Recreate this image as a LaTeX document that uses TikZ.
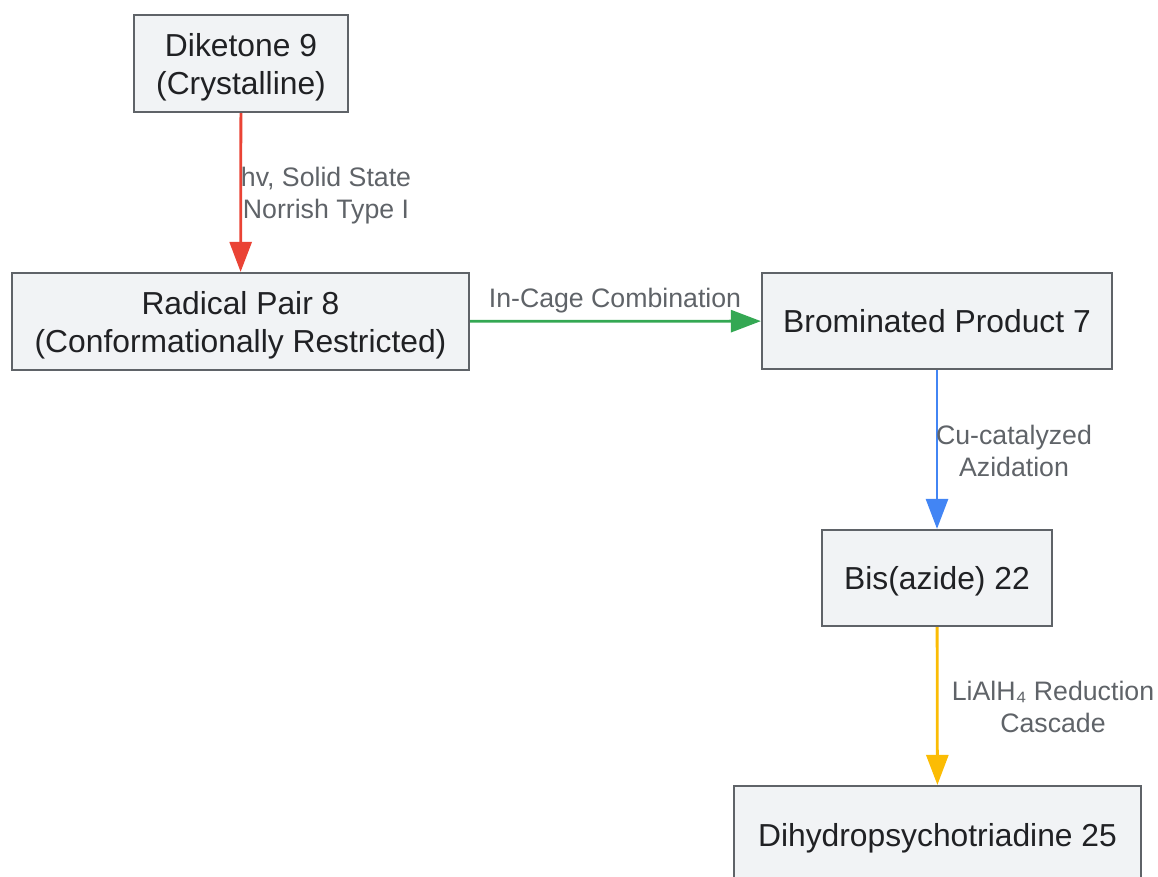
\documentclass[tikz,border=0pt]{standalone}
\usepackage{fontspec}
\setmainfont{Liberation Sans}
\usetikzlibrary{arrows.meta}
\definecolor{boxfill}{HTML}{F1F3F5}
\definecolor{boxdraw}{HTML}{5F6368}
\definecolor{txt}{HTML}{202124}
\definecolor{lbl}{HTML}{5F6368}
\definecolor{cred}{HTML}{EA4335}
\definecolor{cgreen}{HTML}{34A853}
\definecolor{cblue}{HTML}{4285F4}
\definecolor{cyellow}{HTML}{FBBC04}
\newcommand\shiftdown[2]{\raisebox{-#1}[\height][\depth]{\begin{tabular}{@{}c@{}}#2\end{tabular}}}
\tikzset{
  stepbox/.style={draw=boxdraw, fill=boxfill, line width=2.2pt, text=txt,
    font=\fontsize{31.8}{38}\selectfont, align=center, inner sep=0pt},
  conn/.style={line width=2.8pt, -{Triangle[length=30pt,width=22pt]}},
  elabel/.style={text=lbl, font=\fontsize{26.7}{32}\selectfont, align=center, inner sep=0pt}
}
\begin{document}
\begin{tikzpicture}[x=1pt,y=-1pt]
\useasboundingbox (0,0) rectangle (1158,877);
\node[stepbox, minimum width=214pt, minimum height=97pt] (dik) at (241,63.5) {\shiftdown{4pt}{Diketone 9\\(Crystalline)}};
\node[stepbox, minimum width=457pt, minimum height=97pt] (rad) at (240.5,321.5) {\shiftdown{4pt}{Radical Pair 8\\(Conformationally Restricted)}};
\node[stepbox, minimum width=350pt, minimum height=96pt] (bro) at (937,321) {\shiftdown{4pt}{Brominated Product 7}};
\node[stepbox, minimum width=230pt, minimum height=96pt] (bis) at (937,578) {\shiftdown{3.5pt}{Bis(azide) 22}};
\node[stepbox, minimum width=407pt, minimum height=98pt] (dih) at (937.5,835) {\shiftdown{3.5pt}{Dihydropsychotriadine 25}};
\draw[conn, cred] (dik) -- (rad);
\draw[conn, cgreen] (rad) -- (bro);
\draw[conn, cblue] (bro) -- (bis);
\draw[conn, cyellow] (bis) -- (dih);
\node[elabel] (l1) at (326,196) {hv, Solid State\\Norrish Type I};
\node[elabel] (l2) at (615,301) {In-Cage Combination};
\node[elabel] (l3) at (1014,450.5) {Cu-catalyzed\\Azidation};
\node[elabel] (l4) at (1053,706.5) {LiAlH₄ Reduction\\Cascade};
\end{tikzpicture}
\end{document}
